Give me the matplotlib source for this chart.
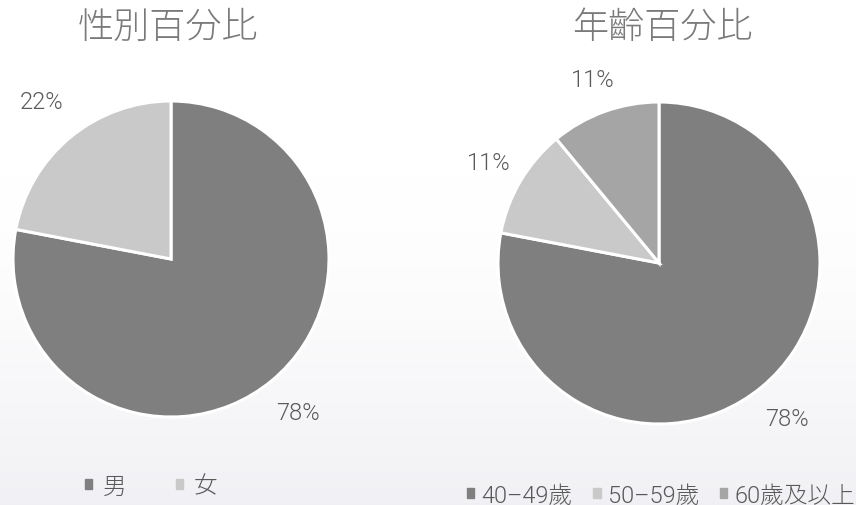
import matplotlib
matplotlib.use('Agg')
import matplotlib.pyplot as plt
from matplotlib.patches import Patch
import numpy as np

plt.rcParams['font.family'] = ['Roboto', 'Noto Sans CJK JP', 'DejaVu Sans']
plt.rcParams['font.weight'] = 300

# 資料
sexo_labels = ['男', '女']
sexo_vals = [78, 22]
idade_labels = ['40–49歲', '50–59歲', '60歲及以上']
idade_vals = [78, 11, 11]

c_escuro = '#7f7f80'
c_claro = '#c9c9c9'
c_medio = '#a5a5a6'
cor_titulo = '#7a7a7a'
cor_texto = '#595959'

W, H = 856, 506
fig = plt.figure(figsize=(W/100, H/100), dpi=100)

# fundo com leve gradiente em baixo
bg = fig.add_axes([0, 0, 1, 1], zorder=-10)
grad = np.linspace(0, 1, 256).reshape(-1, 1)
grad = np.clip((grad - 0.35) / 0.65, 0, 1) ** 1.5
rgb = np.ones((256, 1, 3))
rgb[:, 0, 0] = 1 - 0.055 * grad[:, 0]
rgb[:, 0, 1] = 1 - 0.055 * grad[:, 0]
rgb[:, 0, 2] = 1 - 0.04 * grad[:, 0]
bg.imshow(rgb, aspect='auto', extent=[0, 1, 0, 1], origin='upper')
bg.axis('off')

def eixo(cx, cy, r):
    return fig.add_axes([(cx - r)/W, (H - cy - r)/H, 2*r/W, 2*r/H])

def pizza(ax, vals, cores, dists):
    wedges, txts = ax.pie(vals, colors=cores, startangle=90, counterclock=False,
                          labels=[f'{v}%' for v in vals],
                          wedgeprops=dict(edgecolor='white', linewidth=2.2),
                          textprops=dict(color=cor_texto, fontsize=17, fontweight=300))
    # distancia de cada rotulo
    for w, t, d in zip(wedges, txts, dists):
        ang = np.radians((w.theta1 + w.theta2) / 2)
        t.set_position((d*np.cos(ang), d*np.sin(ang)))
        t.set_ha('center')
        t.set_va('center')
        t.set_clip_on(False)
    ax.set_xlim(-1, 1)
    ax.set_ylim(-1, 1)
    ax.axis('off')

ax1 = eixo(171, 260, 158)
pizza(ax1, sexo_vals, [c_escuro, c_claro], [1.26, 1.29])
ax2 = eixo(659, 264, 161)
pizza(ax2, idade_vals, [c_escuro, c_claro, c_medio], [1.25, 1.23, 1.21])

fig.text(168/W, 1 - 28/H, '性別百分比', ha='center', va='center', fontsize=26,
         color=cor_titulo, fontweight=300)
fig.text(662/W, 1 - 28/H, '年齡百分比', ha='center', va='center', fontsize=26,
         color=cor_titulo, fontweight=300)

h1 = [Patch(color=c) for c in [c_escuro, c_claro]]
fig.legend(h1, sexo_labels, loc='center', bbox_to_anchor=(151/W, 1 - 487/H), ncol=2,
           frameon=False, handlelength=0.3, handleheight=0.3, handletextpad=0.45,
           columnspacing=2.1, prop=dict(size=17, weight=300), labelcolor=cor_texto)
h2 = [Patch(color=c) for c in [c_escuro, c_claro, c_medio]]
fig.legend(h2, idade_labels, loc='center', bbox_to_anchor=(661/W, 1 - 496/H), ncol=3,
           frameon=False, handlelength=0.3, handleheight=0.3, handletextpad=0.3,
           columnspacing=0.9, prop=dict(size=17, weight=300), labelcolor=cor_texto)

fig.savefig('out.png', dpi=100)
